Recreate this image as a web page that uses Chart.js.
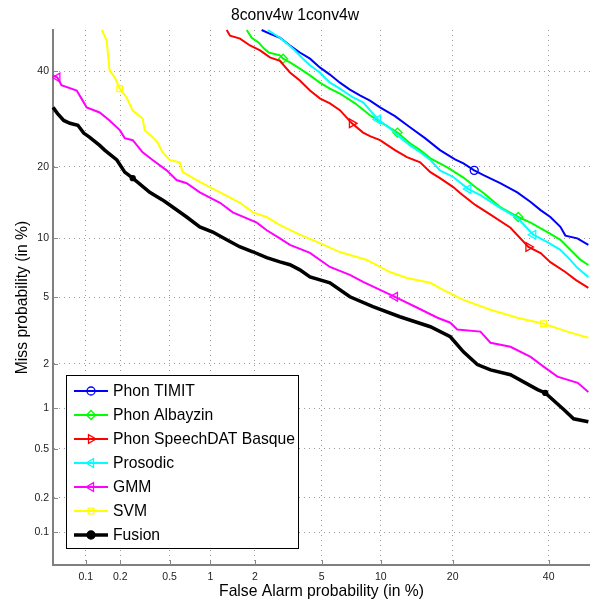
<!DOCTYPE html>
<html lang="en">
<head>
    <meta charset="UTF-8">
    <title>8conv4w 1conv4w</title>
    <script src="https://cdn.jsdelivr.net/npm/chart.js"></script>
    <style>
        body { margin: 0; background: #fff; }
        #wrap { width: 590px; height: 602px; }
    </style>
</head>
<body>
    <div id="wrap"><canvas id="det"></canvas></div>

    <script>
        // ticks (percent) used on both axes
        const probTicks = [0.1, 0.2, 0.5, 1, 2, 5, 10, 20, 40];
        const axisMin = 0.05;
        const axisMax = 50;

        const seriesNames = ['Phon TIMIT', 'Phon Albayzin', 'Phon SpeechDAT Basque', 'Prosodic', 'GMM', 'SVM', 'Fusion'];

        // [false alarm %, miss %]
        const phonTimit = [[2.21,50],[2.48,49.1],[2.87,48.1],[3.30,46.2],[3.77,44.5],[4.31,43.0],[4.89,40.9],[5.55,39.2],[6.27,37.3],[7.06,35.7],[7.93,34.4],[8.88,33.2],[9.91,31.7],[11.6,29.8],[13.5,27.5],[15.6,25.3],[17.9,23.0],[20.4,21.3],[21.9,20.6],[23.9,19.4],[25.7,18.6],[29.1,17.3],[32.8,15.9],[35.8,14.5],[38.1,13.4],[40.4,12.5],[42.8,11.3],[44.0,10.3],[46.9,10.0],[49.6,9.31]];
        const phonAlbayzin = [[1.77,50],[1.91,48.1],[2.12,46.9],[2.28,45.5],[2.45,44.5],[2.87,43.8],[3.0,43.0],[3.30,42.1],[3.77,40.6],[4.31,39.0],[4.89,37.3],[5.55,35.9],[6.27,34.8],[7.50,32.6],[8.88,30.0],[10.2,28.3],[11.9,26.4],[13.5,24.3],[14.9,23.0],[16.4,21.5],[19.1,19.9],[21.9,18.2],[24.1,16.7],[25.7,15.8],[29.1,13.8],[33.0,12.5],[35.8,11.8],[39.7,10.7],[42.8,9.84],[45.2,8.82],[47.7,7.87],[49.6,7.42]];
        const phonBasque = [[1.30,50],[1.37,48.6],[1.60,47.9],[1.86,46.2],[2.16,45.0],[2.49,43.3],[2.87,42.5],[3.30,39.7],[3.77,37.8],[4.31,35.5],[4.89,33.7],[5.55,32.6],[6.27,31.1],[7.23,28.3],[8.22,26.4],[8.88,25.7],[9.91,24.9],[11.6,23.0],[13.1,21.7],[14.9,20.8],[16.4,19.1],[17.9,18.1],[20.1,16.7],[21.3,15.8],[24.1,14.1],[27.1,12.8],[31.3,11.2],[35.3,9.1],[38.1,8.5],[40.4,7.67],[44.0,6.83],[46.5,6.22],[49.6,5.64]];
        const prosodic = [[2.42,50],[2.87,48.1],[3.17,46.7],[3.53,45.0],[3.93,43.0],[4.31,41.4],[4.89,39.7],[5.55,37.3],[6.27,35.9],[7.33,33.9],[8.22,32.8],[9.70,29.1],[11.0,27.3],[12.2,25.5],[13.5,23.9],[14.9,22.6],[16.4,21.2],[17.9,19.4],[20.1,18.3],[22.8,16.4],[25.1,15.5],[29.1,13.7],[32.8,12.4],[36.4,10.4],[39.7,9.61],[42.8,8.82],[45.2,7.87],[46.9,7.18],[49.6,6.43]];
        const gmm = [[0.05,39.0],[0.055,38.5],[0.06,36.7],[0.083,35.5],[0.094,33.2],[0.102,31.7],[0.133,30.6],[0.162,28.9],[0.198,26.9],[0.218,25.3],[0.254,24.9],[0.306,22.6],[0.368,21.2],[0.474,19.4],[0.565,17.8],[0.673,17.3],[0.84,15.9],[1.17,14.4],[1.43,13.1],[2.06,11.8],[2.38,10.9],[2.87,10.0],[3.30,9.31],[4.31,8.52],[5.55,7.25],[7.06,6.6],[8.22,6.07],[11.6,5.04],[14.5,4.38],[17.5,3.84],[19.6,3.59],[20.8,3.27],[25.1,3.18],[27.1,2.72],[31.3,2.57],[35.8,2.22],[38.8,1.92],[42.1,1.65],[47.0,1.50],[49.6,1.30]];
        const svm = [[0.139,50],[0.153,47.4],[0.162,40.2],[0.180,38.5],[0.198,35.9],[0.226,33.9],[0.254,31.0],[0.306,29.3],[0.318,26.9],[0.368,25.5],[0.402,24.5],[0.44,22.6],[0.50,21.2],[0.597,20.8],[0.628,19.1],[0.84,17.5],[0.99,16.7],[1.17,15.9],[1.60,14.4],[1.94,13.1],[2.38,12.5],[2.87,11.5],[3.77,10.4],[4.89,9.5],[6.27,8.6],[8.59,7.86],[11.0,6.83],[13.1,6.36],[16.4,6.0],[18.4,5.5],[21.9,4.85],[27.1,4.27],[32.8,3.84],[38.8,3.54],[44.5,3.18],[49.6,2.92]];
        const fusion = [[0.05,31.7],[0.055,30.4],[0.063,28.9],[0.072,28.3],[0.085,27.9],[0.096,26.3],[0.108,25.5],[0.133,23.9],[0.147,23.0],[0.187,21.2],[0.218,19.1],[0.254,18.1],[0.349,15.9],[0.44,14.8],[0.474,14.4],[0.673,12.5],[0.84,11.3],[1.04,10.7],[1.30,9.86],[1.59,9.13],[1.94,8.63],[2.38,8.07],[2.87,7.69],[3.30,7.44],[3.77,7.01],[4.31,6.45],[5.55,6.0],[7.06,5.04],[9.17,4.44],[12.2,3.89],[16.4,3.40],[19.6,2.96],[21.9,2.39],[24.5,1.98],[27.1,1.83],[31.3,1.70],[37.4,1.35],[39.2,1.28],[43.6,0.98],[46.0,0.84],[49.6,0.80]];

        // which points carry a marker
        const markerIdx = [[19], [6, 16, 25], [13, 27], [11, 19, 23], [1, 27], [4, 33], [11, 37]];

        const allSeries = [phonTimit, phonAlbayzin, phonBasque, prosodic, gmm, svm, fusion];
        const colors = ['#0000ff', '#00ff00', '#ff0000', '#00ffff', '#ff00ff', '#ffff00', '#000000'];
        const shapes = [
            {style: 'circle', rot: 0, fill: false, r: 4},
            {style: 'rectRot', rot: 0, fill: false, r: 4.5},
            {style: 'triangle', rot: 90, fill: false, r: 5},
            {style: 'triangle', rot: -90, fill: false, r: 5},
            {style: 'triangle', rot: -90, fill: false, r: 5},
            {style: 'rect', rot: 0, fill: false, r: 4},
            {style: 'circle', rot: 0, fill: true, r: 2.5}
        ];
        const widths = [2, 2, 2, 2, 2, 2, 3.5];

        // inverse normal cdf (Acklam)
        function normInv(p) {
            const a = [-3.969683028665376e+01, 2.209460984245205e+02, -2.759285104469687e+02, 1.383577518672690e+02, -3.066479806614716e+01, 2.506628277459239e+00];
            const b = [-5.447609879822406e+01, 1.615858368580409e+02, -1.556989798598866e+02, 6.680131188771972e+01, -1.328068155288572e+01];
            const c = [-7.784894002430293e-03, -3.223964580411365e-01, -2.400758277161838e+00, -2.549732539343734e+00, 4.374664141464968e+00, 2.938163982698783e+00];
            const d = [7.784695709041462e-03, 3.224671290700398e-01, 2.445134137142996e+00, 3.754408661907416e+00];
            const pl = 0.02425;
            if (p < pl) {
                const q = Math.sqrt(-2 * Math.log(p));
                return (((((c[0]*q+c[1])*q+c[2])*q+c[3])*q+c[4])*q+c[5]) / ((((d[0]*q+d[1])*q+d[2])*q+d[3])*q+1);
            }
            if (p <= 1 - pl) {
                const q = p - 0.5, r = q * q;
                return (((((a[0]*r+a[1])*r+a[2])*r+a[3])*r+a[4])*r+a[5])*q / (((((b[0]*r+b[1])*r+b[2])*r+b[3])*r+b[4])*r+1);
            }
            const q = Math.sqrt(-2 * Math.log(1 - p));
            return -(((((c[0]*q+c[1])*q+c[2])*q+c[3])*q+c[4])*q+c[5]) / ((((d[0]*q+d[1])*q+d[2])*q+d[3])*q+1);
        }
        function normCdf(z) {
            const t = 1 / (1 + 0.3275911 * Math.abs(z) / Math.SQRT2);
            const y = 1 - (((((1.061405429*t - 1.453152027)*t) + 1.421413741)*t - 0.284496736)*t + 0.254829592)*t*Math.exp(-z*z/2);
            return z >= 0 ? 0.5 * (1 + y) : 0.5 * (1 - y);
        }

        // normal deviate scale, values in percent
        class ProbitScale extends Chart.Scale {
            determineDataLimits() {
                this.min = axisMin;
                this.max = axisMax;
            }
            buildTicks() {
                return probTicks.map(v => ({value: v}));
            }
            getLabelForValue(v) { return String(v); }
            configure() {
                super.configure();
                this._zMin = normInv(this.min / 100);
                this._zMax = normInv(this.max / 100);
            }
            getPixelForValue(v) {
                if (v === null || v === undefined || isNaN(v)) return NaN;
                const z = normInv(v / 100);
                return this.getPixelForDecimal((z - this._zMin) / (this._zMax - this._zMin));
            }
            getValueForPixel(px) {
                const dec = this.getDecimalForPixel(px);
                return 100 * normCdf(this._zMin + dec * (this._zMax - this._zMin));
            }
        }
        ProbitScale.id = 'probit';
        ProbitScale.defaults = {};
        Chart.register(ProbitScale);

        const FONT = '"Liberation Sans", Arial, Helvetica, sans-serif';

        // legend box inside the plot + inward tick marks
        const detExtras = {
            id: 'detExtras',
            afterDraw(chart) {
                const ctx = chart.ctx;
                const {x, y} = chart.scales;
                const area = chart.chartArea;
                ctx.save();
                ctx.strokeStyle = '#888';
                ctx.lineWidth = 1;
                probTicks.forEach(v => {
                    const px = Math.round(x.getPixelForValue(v)) + 0.5;
                    ctx.beginPath(); ctx.moveTo(px, area.bottom); ctx.lineTo(px, area.bottom - 5); ctx.stroke();
                    const py = Math.round(y.getPixelForValue(v)) + 0.5;
                    ctx.beginPath(); ctx.moveTo(area.left, py); ctx.lineTo(area.left + 5, py); ctx.stroke();
                });

                // legend
                const bx = 66.5, by = 375.5, bw = 232, bh = 173;
                ctx.fillStyle = '#fff';
                ctx.fillRect(bx, by, bw, bh);
                ctx.strokeStyle = '#000';
                ctx.lineWidth = 1;
                ctx.strokeRect(bx, by, bw, bh);
                ctx.font = '15.7px ' + FONT;
                ctx.textBaseline = 'middle';
                ctx.textAlign = 'left';
                chart.data.datasets.forEach((ds, i) => {
                    const ly = 391 + i * 24;
                    ctx.strokeStyle = ds.borderColor;
                    ctx.lineWidth = ds.borderWidth;
                    ctx.beginPath(); ctx.moveTo(74, ly); ctx.lineTo(108, ly); ctx.stroke();
                    ctx.fillStyle = shapes[i].fill ? ds.borderColor : 'rgba(0,0,0,0)';
                    ctx.lineWidth = 1.3;
                    Chart.helpers.drawPoint(ctx, {pointStyle: shapes[i].style, rotation: shapes[i].rot, radius: shapes[i].fill ? 4 : shapes[i].r, borderWidth: 1.3}, 91, ly);
                    ctx.fillStyle = '#000';
                    ctx.fillText(ds.label, 113, ly + 1);
                });
                ctx.restore();
            }
        };

        const datasets = allSeries.map((s, i) => ({
            label: seriesNames[i],
            data: s.map(p => ({x: p[0], y: p[1]})),
            borderColor: colors[i],
            backgroundColor: shapes[i].fill ? colors[i] : 'rgba(0,0,0,0)',
            borderWidth: widths[i],
            pointStyle: shapes[i].style,
            pointRotation: shapes[i].rot,
            pointRadius: c => markerIdx[i].includes(c.dataIndex) ? shapes[i].r : 0,
            pointBorderWidth: 1.3,
            pointBorderColor: colors[i],
            pointBackgroundColor: shapes[i].fill ? colors[i] : 'rgba(0,0,0,0)',
            pointHoverRadius: 0,
            tension: 0,
            fill: false,
            order: allSeries.length - i
        }));

        const axisCommon = {
            type: 'probit',
            grid: { color: '#9a9a9a', lineWidth: 1, drawTicks: false },
            border: { display: true, color: '#808080', width: 2, dash: [1, 4] },
            ticks: {
                autoSkip: false,
                maxRotation: 0,
                color: '#222',
                font: { family: FONT, size: 10.5 },
                callback: v => String(v)
            }
        };

        new Chart(document.getElementById('det'), {
            type: 'line',
            data: { datasets: datasets },
            options: {
                responsive: true,
                maintainAspectRatio: false,
                animation: false,
                events: [],
                layout: { padding: 0 },
                scales: {
                    x: Object.assign({}, axisCommon, {
                        position: 'bottom',
                        ticks: Object.assign({}, axisCommon.ticks, { padding: 6 }),
                        title: { display: true, text: 'False Alarm probability (in %)', color: '#000',
                                 font: { family: FONT, size: 15.7 }, padding: { top: 0, bottom: 1.1 } },
                        afterFit: s => { s.height = 37; }
                    }),
                    y: Object.assign({}, axisCommon, {
                        position: 'left',
                        ticks: Object.assign({}, axisCommon.ticks, { padding: 4 }),
                        title: { display: true, text: 'Miss probability (in %)', color: '#000',
                                 font: { family: FONT, size: 15.7 }, padding: { top: 13.1, bottom: 0 } },
                        afterFit: s => { s.width = 53; }
                    })
                },
                plugins: {
                    legend: { display: false },
                    tooltip: { enabled: false },
                    title: {
                        display: true,
                        text: '8conv4w 1conv4w',
                        color: '#000',
                        font: { family: FONT, size: 15.7, weight: 'normal' },
                        padding: { top: 6.1, bottom: 5.06 }
                    }
                }
            },
            plugins: [detExtras]
        });
    </script>
</body>
</html>
